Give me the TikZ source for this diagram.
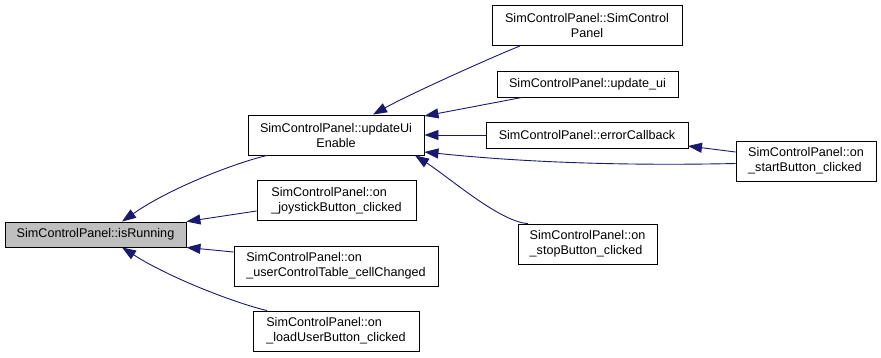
\documentclass[tikz,border=0pt]{standalone}
\usepackage{fontspec}
\setmainfont{Liberation Sans}
\usetikzlibrary{arrows.meta}
\definecolor{edgeblue}{HTML}{191970}
\definecolor{focusgrey}{HTML}{BFBFBF}
\tikzset{
  fnbox/.style={draw=black, line width=0.9pt, fill=white, rectangle,
    inner sep=0pt, font=\fontsize{12.6}{15}\selectfont},
  callarrow/.style={draw=edgeblue, line width=0.9pt,
    -{Triangle[length=14pt, width=10pt]}},
}
\begin{document}
\begin{tikzpicture}[x=1pt, y=-1pt]
\useasboundingbox (0,0) rectangle (881,357);

% functions
\node[fnbox, fill=focusgrey, minimum width=181pt, minimum height=25pt] (isr) at (95.5,234.5) {SimControlPanel::isRunning};
\node[fnbox, align=center, minimum width=176pt, minimum height=40pt] (upd) at (336,135) {SimControlPanel::updateUi\\Enable};
\node[fnbox, align=left, minimum width=159pt, minimum height=40pt] (joy) at (336.5,200.5) {SimControlPanel::on\\\_joystickButton\_clicked};
\node[fnbox, align=left, minimum width=204pt, minimum height=40pt] (uct) at (336,266) {SimControlPanel::on\\\_userControlTable\_cellChanged};
\node[fnbox, align=left, minimum width=166pt, minimum height=40pt] (lub) at (336,331) {SimControlPanel::on\\\_loadUserButton\_clicked};
\node[fnbox, align=center, minimum width=190pt, minimum height=40pt] (ctor) at (587,25.5) {SimControlPanel::SimControl\\Panel};
\node[fnbox, minimum width=181pt, minimum height=26pt] (uui) at (587.5,84) {SimControlPanel::update\_ui};
\node[fnbox, minimum width=202pt, minimum height=26pt] (err) at (587,135) {SimControlPanel::errorCallback};
\node[fnbox, align=left, minimum width=140pt, minimum height=40pt] (sb) at (806,161) {SimControlPanel::on\\\_startButton\_clicked};
\node[fnbox, align=left, minimum width=139pt, minimum height=40pt] (stb) at (587.5,244) {SimControlPanel::on\\\_stopButton\_clicked};

% callers of isRunning
\draw[callarrow] ([xshift=-69pt]upd.south) .. controls (235,163) and (170,188) .. ([xshift=26.5pt]isr.north);
\draw[callarrow] ([yshift=-10.5pt]joy.west) -- (isr.north east);
\draw[callarrow] ([yshift=14pt]uct.west) -- (isr.south east);
\draw[callarrow] ([xshift=-69pt]lub.north) .. controls (235,303) and (170,278) .. ([xshift=26.5pt]isr.south);

% callers of updateUiEnable
\draw[callarrow] ([xshift=-67pt]ctor.south) .. controls (490,58) and (410,94) .. ([xshift=37pt]upd.north);
\draw[callarrow] ([xshift=-65.5pt]uui.south) -- ([yshift=19pt]upd.east);
\draw[callarrow] (err.west) -- (upd.east);
\draw[callarrow] ([yshift=-2.5pt]sb.west) .. controls (620,166) and (520,162) .. ([yshift=-17pt]upd.east);
\draw[callarrow] ([xshift=-59.5pt]stb.north) .. controls (500,222) and (450,178) .. ([xshift=79pt]upd.south);

% caller of errorCallback
\draw[callarrow] ([yshift=9pt]sb.west) -- ([xshift=101pt, yshift=-11pt]err.center);
\end{tikzpicture}
\end{document}
